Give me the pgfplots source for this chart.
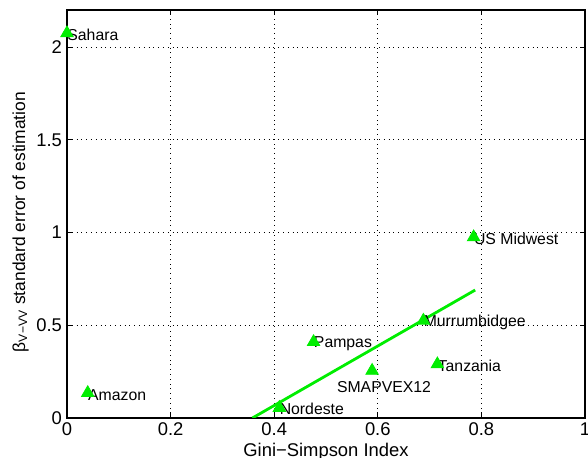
\documentclass[border=0pt]{standalone}
\usepackage{fontspec}
\setmainfont{Liberation Sans}
\usepackage{pgfplots}
\pgfplotsset{compat=1.18}
\definecolor{mgreen}{rgb}{0,0.93,0}
\begin{document}
\begin{tikzpicture}
\path[use as bounding box] (-33.5pt,-20pt) rectangle (260.5pt,209pt);
\begin{axis}[
  scale only axis,
  width=259pt, height=204pt,
  xmin=0, xmax=1, ymin=0, ymax=2.2,
  xtick={0,0.2,0.4,0.6,0.8,1},
  ytick={0,0.5,1,1.5,2},
  xticklabels={0,0.2,0.4,0.6,0.8,1},
  yticklabels={0,0.5,1,1.5,2},
  tick align=inside,
  major tick length=2.5pt,
  tick style={black, line width=0.4pt},
  grid=major,
  grid style={black, dotted, line width=0.35pt},
  axis line style={black, line width=0.6pt},
  ticklabel style={font=\fontsize{9.2}{10}\selectfont},
  xticklabel style={yshift=1pt},
  yticklabel style={xshift=1pt},
  xlabel={Gini−Simpson Index},
  ylabel={β\textsubscript{V−VV} standard error of estimation},
  xlabel style={font=\fontsize{9.2}{10}\selectfont, yshift=3.5pt},
  ylabel style={font=\fontsize{8.7}{9}\selectfont, yshift=-3pt, xshift=-4pt},
  clip=true,
]
\addplot[mgreen, line width=1.4pt, forget plot] coordinates {(0.358,0) (0.788,0.69)};
\addplot[only marks, mark=triangle*, mark size=3.6pt, mgreen, mark options={fill=mgreen, draw=mgreen}] coordinates {
(0.0,2.075)
(0.04,0.135)
(0.41,0.055)
(0.476,0.41)
(0.589,0.255)
(0.688,0.525)
(0.715,0.29)
(0.785,0.975)
};
\begin{scope}[every node/.style={font=\fontsize{7.9}{8}\selectfont, inner sep=0pt, text=black}]
\node[anchor=west] at (axis cs:0.0,2.065) {Sahara};
\node[anchor=west] at (axis cs:0.04,0.125) {Amazon};
\node[anchor=west] at (axis cs:0.41,0.05) {Nordeste};
\node[anchor=west] at (axis cs:0.476,0.40) {Pampas};
\node[anchor=center] at (axis cs:0.612,0.167) {SMAPVEX12};
\node[anchor=west] at (axis cs:0.688,0.515) {Murrumbidgee};
\node[anchor=west] at (axis cs:0.715,0.28) {Tanzania};
\node[anchor=west] at (axis cs:0.785,0.965) {US Midwest};
\end{scope}
\end{axis}
\end{tikzpicture}
\end{document}
